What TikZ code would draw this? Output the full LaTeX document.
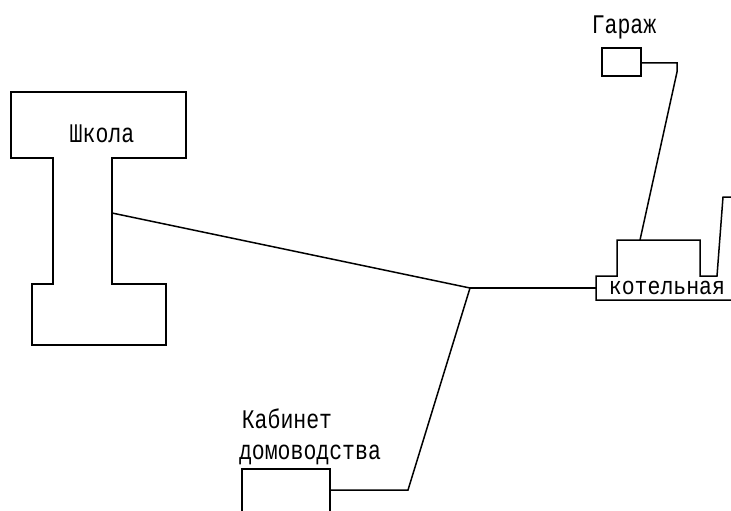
\documentclass[tikz,border=0pt]{standalone}
\usepackage{fontspec}
\setmainfont{Liberation Mono}
\begin{document}
\begin{tikzpicture}[x=1pt,y=1pt,line width=1.5pt]
	\tikzstyle{every node}+=[inner sep=0pt]
	\tikzstyle{label}=[font=\fontsize{21.5}{21.5}\selectfont,anchor=base,transform shape,yscale=1.25]
	\useasboundingbox (0,0) rectangle (731,-511);
	\draw [black] (53,-158) -- (11,-158) -- (11,-92) -- (186,-92) -- (186,-158) -- (112,-158) -- (112,-284) -- (166,-284) -- (166,-345) -- (32,-345) -- (32,-284) -- (53,-284) -- cycle;
	\node [label] (school) at (102,-142) {Школа};
	\coordinate (schoolwall) at (112,-213);
	\node [draw=black,minimum width=39,minimum height=28] (garage) at (621.5,-62) {};
	\node [label] (garagetext) at (624,-34) {Гараж};
	\coordinate (garagebend) at (677,-63);
	\coordinate (garagedrop) at (677,-72);
	\coordinate (boilertop) at (640,-240);
	\draw [black] (731,-197) -- (723,-197) -- (717,-276) -- (700,-276) -- (700,-240) -- (617,-240) -- (617,-276) -- (596,-276) -- (596,-300) -- (731,-300);
	\node [label,yscale=0.92] (boiler) at (667,-294) {котельная};
	\coordinate (boilerwall) at (596,-288);
	\coordinate (junction) at (470,-288);
	\draw [black] (242,-511) -- (242,-469) -- (330,-469) -- (330,-511);
	\node [label] (cabinet) at (287,-428) {Кабинет};
	\node [label] (housekeeping) at (310,-459) {домоводства};
	\coordinate (cabinetwall) at (330,-490);
	\coordinate (cabinetbend) at (408,-490);
	\draw [black] (schoolwall) -- (junction);
	\draw [black] (junction) -- (boilerwall);
	\draw [black] (junction) -- (cabinetbend) -- (cabinetwall);
	\draw [black] (garage.east |- garagebend) -- (garagebend) -- (garagedrop) -- (boilertop);
\end{tikzpicture}
\end{document}
